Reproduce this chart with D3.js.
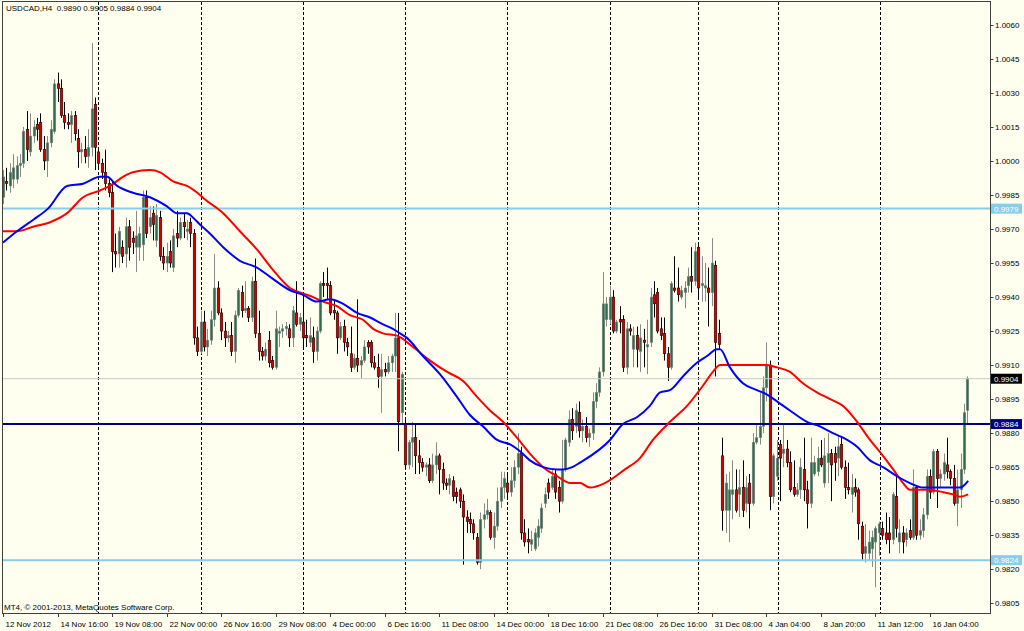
<!DOCTYPE html>
<html><head><meta charset="utf-8">
<script src="https://cdn.jsdelivr.net/npm/d3@7"></script>
<style>
html,body{margin:0;padding:0;background:#fffff0;}
svg{display:block;}
text{font-family:"Liberation Sans",Arial,sans-serif;font-size:8px;}
</style>
</head><body>
<svg id="chart" width="1024" height="631"></svg>
<script>
const symbolTitle = "USDCAD,H4  0.9890 0.9905 0.9884 0.9904";
const copyrightText = "MT4, \u00A9 2001-2013, MetaQuotes Software Corp.";

// H4 candles: [open, high, low, close]
const ohlc = [
[0.9984,0.9996,0.9981,0.9993],[0.9991,0.9997,0.9987,0.9990],[0.9989,0.9999,0.9986,0.9995],[0.9992,1.0003,0.9988,0.9997],
[0.9992,1.0002,0.9990,0.9998],[0.9998,1.0003,0.9993,0.9999],[0.9999,1.0015,0.9997,1.0013],[1.0014,1.0022,1.0000,1.0005],
[1.0004,1.0021,1.0002,1.0011],[1.0011,1.0018,1.0008,1.0015],[1.0016,1.0019,1.0009,1.0014],[1.0017,1.0021,1.0004,1.0005],
[1.0005,1.0011,0.9996,1.0000],[1.0000,1.0011,0.9993,1.0008],[1.0008,1.0018,1.0006,1.0014],[1.0013,1.0036,1.0012,1.0034],
[1.0034,1.0039,1.0026,1.0032],[1.0032,1.0036,1.0019,1.0020],[1.0020,1.0026,1.0014,1.0017],[1.0017,1.0021,1.0014,1.0016],
[1.0016,1.0022,1.0008,1.0020],[1.0020,1.0022,1.0009,1.0012],[1.0010,1.0014,0.9997,1.0004],[1.0004,1.0008,0.9999,1.0005],
[1.0005,1.0011,0.9999,1.0002],[1.0002,1.0014,0.9997,1.0006],[1.0006,1.0052,1.0002,1.0023],[1.0025,1.0028,0.9996,1.0006],
[1.0004,1.0006,0.9996,0.9999],[0.9999,1.0001,0.9992,0.9995],[0.9995,1.0005,0.9987,0.9990],[0.9990,0.9992,0.9984,0.9986],
[0.9986,0.9991,0.9951,0.9960],[0.9960,0.9968,0.9953,0.9959],[0.9959,0.9971,0.9953,0.9969],[0.9962,0.9965,0.9955,0.9958],
[0.9959,0.9975,0.9953,0.9971],[0.9971,0.9974,0.9956,0.9962],[0.9966,0.9969,0.9959,0.9964],[0.9962,0.9978,0.9951,0.9967],
[0.9962,0.9971,0.9956,0.9968],[0.9963,0.9987,0.9956,0.9984],[0.9984,0.9987,0.9966,0.9968],[0.9971,0.9980,0.9968,0.9975],
[0.9977,0.9980,0.9965,0.9972],[0.9965,0.9981,0.9962,0.9976],[0.9975,0.9978,0.9956,0.9958],[0.9958,0.9962,0.9952,0.9955],
[0.9955,0.9964,0.9951,0.9958],[0.9960,0.9965,0.9953,0.9955],[0.9953,0.9970,0.9951,0.9967],[0.9968,0.9978,0.9962,0.9966],
[0.9966,0.9975,0.9965,0.9973],[0.9973,0.9977,0.9966,0.9971],[0.9969,0.9974,0.9965,0.9970],[0.9973,0.9975,0.9962,0.9968],
[0.9968,0.9970,0.9919,0.9922],[0.9922,0.9927,0.9914,0.9916],[0.9916,0.9934,0.9915,0.9929],[0.9929,0.9934,0.9916,0.9918],
[0.9918,0.9926,0.9914,0.9921],[0.9921,0.9934,0.9919,0.9930],[0.9930,0.9959,0.9927,0.9944],[0.9944,0.9947,0.9932,0.9933],
[0.9933,0.9935,0.9921,0.9925],[0.9925,0.9929,0.9918,0.9922],[0.9922,0.9925,0.9920,0.9923],[0.9923,0.9929,0.9914,0.9916],
[0.9916,0.9934,0.9911,0.9932],[0.9932,0.9944,0.9931,0.9943],[0.9942,0.9945,0.9931,0.9934],[0.9934,0.9947,0.9933,0.9935],
[0.9935,0.9936,0.9929,0.9931],[0.9931,0.9949,0.9929,0.9947],[0.9947,0.9957,0.9922,0.9924],[0.9924,0.9934,0.9912,0.9916],
[0.9916,0.9918,0.9912,0.9914],[0.9914,0.9920,0.9912,0.9917],[0.9921,0.9925,0.9909,0.9911],[0.9912,0.9914,0.9908,0.9909],
[0.9909,0.9934,0.9908,0.9926],[0.9924,0.9927,0.9918,0.9925],[0.9925,0.9928,0.9922,0.9926],[0.9926,0.9929,0.9923,0.9927],
[0.9926,0.9928,0.9918,0.9922],[0.9922,0.9936,0.9918,0.9934],[0.9933,0.9947,0.9927,0.9928],[0.9928,0.9933,0.9925,0.9931],
[0.9929,0.9942,0.9917,0.9922],[0.9923,0.9930,0.9918,0.9922],[0.9920,0.9931,0.9918,0.9923],[0.9922,0.9927,0.9911,0.9916],
[0.9916,0.9927,0.9912,0.9925],[0.9925,0.9947,0.9924,0.9946],[0.9946,0.9951,0.9940,0.9945],[0.9946,0.9953,0.9939,0.9945],
[0.9945,0.9947,0.9932,0.9933],[0.9934,0.9939,0.9930,0.9933],[0.9933,0.9934,0.9915,0.9922],[0.9922,0.9929,0.9921,0.9927],
[0.9927,0.9930,0.9916,0.9920],[0.9920,0.9922,0.9914,0.9918],[0.9915,0.9927,0.9907,0.9909],[0.9909,0.9915,0.9908,0.9913],
[0.9913,0.9939,0.9907,0.9910],[0.9910,0.9914,0.9904,0.9912],[0.9912,0.9921,0.9911,0.9918],[0.9920,0.9921,0.9915,0.9918],
[0.9920,0.9921,0.9909,0.9911],[0.9911,0.9914,0.9908,0.9909],[0.9909,0.9915,0.9900,0.9905],[0.9905,0.9915,0.9889,0.9908],
[0.9908,0.9911,0.9905,0.9907],[0.9907,0.9914,0.9906,0.9911],[0.9911,0.9915,0.9907,0.9914],[0.9914,0.9933,0.9907,0.9922],
[0.9922,0.9933,0.9872,0.9885],[0.9889,0.9907,0.9884,0.9906],[0.9884,0.9886,0.9864,0.9866],[0.9866,0.9877,0.9864,0.9876],
[0.9876,0.9885,0.9865,0.9878],[0.9878,0.9884,0.9862,0.9870],[0.9870,0.9877,0.9862,0.9867],[0.9867,0.9869,0.9863,0.9865],
[0.9865,0.9867,0.9861,0.9866],[0.9866,0.9869,0.9858,0.9859],[0.9859,0.9871,0.9858,0.9866],[0.9866,0.9876,0.9862,0.9870],
[0.9870,0.9871,0.9853,0.9864],[0.9864,0.9867,0.9855,0.9858],[0.9858,0.9860,0.9855,0.9857],[0.9857,0.9862,0.9853,0.9860],
[0.9859,0.9861,0.9850,0.9852],[0.9854,0.9856,0.9849,0.9852],[0.9855,0.9856,0.9847,0.9850],[0.9850,0.9853,0.9822,0.9843],
[0.9843,0.9846,0.9836,0.9841],[0.9842,0.9845,0.9836,0.9840],[0.9840,0.9842,0.9833,0.9836],[0.9834,0.9836,0.9822,0.9823],
[0.9823,0.9845,0.9820,0.9842],[0.9842,0.9849,0.9838,0.9844],[0.9844,0.9851,0.9842,0.9846],[0.9845,0.9846,0.9833,0.9834],
[0.9834,0.9845,0.9829,0.9839],[0.9839,0.9856,0.9837,0.9850],[0.9850,0.9863,0.9847,0.9856],[0.9856,0.9863,0.9851,0.9860],
[0.9858,0.9862,0.9851,0.9854],[0.9854,0.9865,0.9852,0.9859],[0.9859,0.9868,0.9856,0.9865],[0.9865,0.9880,0.9862,0.9871],
[0.9871,0.9874,0.9833,0.9836],[0.9836,0.9842,0.9830,0.9832],[0.9833,0.9838,0.9827,0.9832],[0.9831,0.9837,0.9828,0.9833],
[0.9829,0.9838,0.9828,0.9836],[0.9834,0.9842,0.9830,0.9839],[0.9838,0.9849,0.9836,0.9847],[0.9849,0.9856,0.9847,0.9853],
[0.9858,0.9860,0.9851,0.9854],[0.9856,0.9864,0.9855,0.9861],[0.9862,0.9864,0.9851,0.9854],[0.9856,0.9859,0.9845,0.9850],
[0.9850,0.9877,0.9849,0.9864],[0.9864,0.9878,0.9863,0.9877],[0.9876,0.9890,0.9874,0.9886],[0.9886,0.9891,0.9877,0.9881],
[0.9883,0.9893,0.9880,0.9890],[0.9889,0.9894,0.9878,0.9881],[0.9881,0.9886,0.9876,0.9883],[0.9883,0.9887,0.9876,0.9878],
[0.9878,0.9882,0.9874,0.9880],[0.9880,0.9898,0.9877,0.9894],[0.9894,0.9902,0.9891,0.9898],[0.9898,0.9909,0.9896,0.9907],
[0.9907,0.9951,0.9905,0.9937],[0.9930,0.9940,0.9927,0.9937],[0.9930,0.9945,0.9928,0.9940],[0.9940,0.9943,0.9924,0.9925],
[0.9925,0.9930,0.9924,0.9929],[0.9930,0.9936,0.9924,0.9929],[0.9930,0.9932,0.9907,0.9909],[0.9909,0.9929,0.9906,0.9926],
[0.9926,0.9928,0.9923,0.9925],[0.9917,0.9927,0.9909,0.9923],[0.9923,0.9927,0.9909,0.9917],[0.9916,0.9928,0.9907,0.9922],
[0.9921,0.9926,0.9909,0.9920],[0.9918,0.9930,0.9906,0.9919],[0.9920,0.9944,0.9918,0.9940],[0.9941,0.9947,0.9931,0.9937],
[0.9942,0.9944,0.9924,0.9925],[0.9926,0.9931,0.9921,0.9923],[0.9924,0.9931,0.9912,0.9915],[0.9915,0.9918,0.9903,0.9909],
[0.9909,0.9947,0.9908,0.9946],[0.9944,0.9958,0.9942,0.9943],[0.9944,0.9953,0.9938,0.9941],[0.9940,0.9945,0.9939,0.9943],
[0.9942,0.9947,0.9935,0.9944],[0.9945,0.9953,0.9942,0.9949],[0.9949,0.9962,0.9942,0.9947],[0.9947,0.9964,0.9945,0.9960],
[0.9962,0.9964,0.9939,0.9944],[0.9945,0.9958,0.9938,0.9946],[0.9944,0.9955,0.9938,0.9945],[0.9944,0.9953,0.9927,0.9942],
[0.9942,0.9966,0.9936,0.9955],[0.9954,0.9956,0.9905,0.9920],[0.9924,0.9930,0.9917,0.9919],[0.9870,0.9878,0.9837,0.9846],
[0.9846,0.9862,0.9836,0.9858],[0.9846,0.9863,0.9832,0.9855],[0.9853,0.9868,0.9842,0.9855],[0.9855,0.9864,0.9845,0.9846],
[0.9853,0.9864,0.9843,0.9856],[0.9856,0.9868,0.9843,0.9846],[0.9849,0.9861,0.9845,0.9856],[0.9858,0.9862,0.9838,0.9849],
[0.9849,0.9880,0.9848,0.9876],[0.9876,0.9884,0.9875,0.9878],[0.9878,0.9898,0.9875,0.9883],[0.9883,0.9905,0.9880,0.9900],
[0.9900,0.9920,0.9894,0.9910],[0.9910,0.9912,0.9846,0.9852],[0.9852,0.9871,0.9849,0.9870],[0.9861,0.9877,0.9859,0.9869],
[0.9875,0.9877,0.9850,0.9869],[0.9871,0.9884,0.9865,0.9873],[0.9873,0.9877,0.9865,0.9867],[0.9867,0.9872,0.9854,0.9855],
[0.9856,0.9868,0.9852,0.9853],[0.9853,0.9858,0.9852,0.9855],[0.9855,0.9869,0.9851,0.9865],[0.9864,0.9878,0.9850,0.9855],
[0.9855,0.9859,0.9838,0.9849],[0.9849,0.9878,0.9847,0.9867],[0.9862,0.9870,0.9861,0.9867],[0.9863,0.9874,0.9861,0.9869],
[0.9869,0.9877,0.9865,0.9866],[0.9858,0.9878,0.9856,0.9870],[0.9867,0.9880,0.9858,0.9871],[0.9871,0.9873,0.9850,0.9866],
[0.9871,0.9874,0.9859,0.9867],[0.9869,0.9879,0.9861,0.9874],[0.9875,0.9878,0.9864,0.9865],[0.9865,0.9868,0.9851,0.9856],
[0.9856,0.9867,0.9853,0.9855],[0.9853,0.9862,0.9845,0.9856],[0.9856,0.9860,0.9852,0.9854],[0.9855,0.9856,0.9833,0.9840],
[0.9839,0.9841,0.9824,0.9827],[0.9827,0.9840,0.9823,0.9830],[0.9827,0.9837,0.9824,0.9832],[0.9829,0.9837,0.9821,0.9834],
[0.9832,0.9839,0.9812,0.9838],[0.9836,0.9841,0.9826,0.9840],[0.9838,0.9841,0.9833,0.9835],[0.9836,0.9845,0.9831,0.9833],
[0.9836,0.9843,0.9827,0.9833],[0.9833,0.9854,0.9831,0.9853],[0.9852,0.9861,0.9834,0.9838],[0.9832,0.9842,0.9827,0.9836],
[0.9836,0.9839,0.9827,0.9832],[0.9833,0.9838,0.9830,0.9836],[0.9837,0.9842,0.9833,0.9834],[0.9834,0.9864,0.9833,0.9856],
[0.9856,0.9857,0.9833,0.9835],[0.9835,0.9842,0.9833,0.9837],[0.9837,0.9847,0.9834,0.9844],[0.9844,0.9864,0.9842,0.9861],
[0.9861,0.9864,0.9851,0.9854],[0.9854,0.9873,0.9853,0.9872],[0.9872,0.9873,0.9847,0.9860],[0.9860,0.9864,0.9856,0.9862],
[0.9862,0.9871,0.9859,0.9867],[0.9866,0.9878,0.9860,0.9863],[0.9863,0.9864,0.9857,0.9860],[0.9860,0.9866,0.9848,0.9849],
[0.9849,0.9864,0.9839,0.9855],[0.9855,0.9871,0.9847,0.9864],[0.9864,0.9893,0.9862,0.9889],[0.9890,0.9905,0.9884,0.9904]
];

// Moving averages: [bar index, value]
const maBlue = [
[0,0.9964],[4.1,0.9969],[8.8,0.9974],[13.2,0.9979],[18.8,0.9989],[23.5,0.9990],[28.5,0.9993],[30.5,0.9993],[33.5,0.9989],
[38.1,0.9986],[43.1,0.9984],[48.1,0.9980],[51,0.9977],[54,0.9977],[55.8,0.9975],[57.8,0.9972],[60.7,0.9968],[64.6,0.9962],
[69.5,0.9956],[74.5,0.9953],[79.2,0.9948],[84.2,0.9943],[88,0.9941],[92.1,0.9938],[96,0.9939],[99.8,0.9937],[103.9,0.9933],
[107.7,0.9931],[111.5,0.9928],[114.4,0.9926],[116.5,0.9924],[118.5,0.9922],[123.2,0.9914],[128.2,0.9906],[133.2,0.9896],
[137,0.9888],[140.8,0.9883],[145,0.9877],[148.8,0.9875],[151.7,0.9872],[154.6,0.9868],[158.5,0.9865],[162.6,0.9864],
[164.3,0.9864],[167,0.9865],[169.3,0.9867],[178.1,0.9877],[181.9,0.9884],[186,0.9887],[189.8,0.9892],[192.8,0.9898],
[195.7,0.9899],[199.5,0.9905],[203.6,0.9911],[206.6,0.9914],[209.5,0.9917],[210.4,0.9917],[213.3,0.9909],[217.1,0.9902],
[221.2,0.9899],[224.2,0.9897],[227.1,0.9894],[230.9,0.9890],[235.9,0.9885],[239.7,0.9883],[243.5,0.9880],[246.5,0.9878],
[250.6,0.9874],[254.4,0.9868],[258.2,0.9865],[262.3,0.9861],[266.1,0.9858],[269.9,0.9856],[275.8,0.9856],[280.8,0.9856],
[283.2,0.9859]
];
const maRed = [
[0,0.9969],[4.1,0.9969],[8.8,0.9971],[13.8,0.9973],[18.8,0.9977],[23.5,0.9984],[28.5,0.9987],[31.4,0.9989],[35.2,0.9993],
[38.1,0.9995],[43.1,0.9996],[46.1,0.9995],[49.9,0.9991],[54,0.9989],[57.8,0.9985],[59.3,0.9983],[64.6,0.9977],[69.5,0.9969],
[74.5,0.9961],[79.2,0.9952],[84.2,0.9944],[87.1,0.9942],[91,0.9940],[93.9,0.9938],[98,0.9936],[101.8,0.9932],[105.6,0.9930],
[108.6,0.9926],[111.5,0.9924],[115.6,0.9923],[120.3,0.9918],[125.3,0.9912],[130.3,0.9907],[135,0.9903],[139.1,0.9896],
[142.9,0.9890],[146.7,0.9885],[150.8,0.9878],[154.6,0.9871],[158.5,0.9865],[162.6,0.9861],[166.4,0.9858],[169.3,0.9858],
[172.2,0.9856],[176.6,0.9858],[182.5,0.9864],[186.9,0.9869],[190.7,0.9877],[195.7,0.9885],[200.7,0.9892],[205.4,0.9901],
[208.3,0.9907],[210.4,0.9910],[217.1,0.9910],[224.2,0.9910],[227.1,0.9909],[230.9,0.9907],[234.7,0.9902],[238.8,0.9898],
[242.7,0.9895],[246.5,0.9892],[250.6,0.9885],[254.4,0.9877],[258.2,0.9870],[261.2,0.9864],[264.1,0.9858],[266.1,0.9855],
[271.1,0.9855],[275.8,0.9854],[278.8,0.9853],[280.8,0.9852],[283.2,0.9853]
];

const timeLabels = ["12 Nov 2012","14 Nov 16:00","19 Nov 08:00","22 Nov 00:00","26 Nov 16:00","29 Nov 08:00",
  "4 Dec 00:00","6 Dec 16:00","11 Dec 08:00","14 Dec 00:00","18 Dec 16:00","21 Dec 08:00","26 Dec 16:00",
  "31 Dec 08:00","4 Jan 04:00","8 Jan 20:00","11 Jan 12:00","16 Jan 04:00"];
const timeLabelBars = [0,16,32,48,64,80,96,112,128,144,160,176,192,208,224,240,256,272];
const gridBars = [28,58,88,118,148,178,204,227.4,257.3];
const priceTicks = [1.0060,1.0045,1.0030,1.0015,1.0000,0.9985,0.9970,0.9955,0.9940,0.9925,0.9910,0.9895,0.9880,0.9865,0.9850,0.9835,0.9820,0.9805];
const lightLevels = [0.9979, 0.9824];
const keyLevel = 0.9884;
const bidPrice = 0.9904;

const svg = d3.select("#chart");
const PL = 2, PR = 990, PT = 2, PB = 613;
const x = d3.scaleLinear().domain([0, 272]).range([3, 930]);
const y = d3.scaleLinear().domain([0.98007, 1.00701]).range([PB, PT]);

svg.append("rect").attr("width",1024).attr("height",631).attr("fill","#fffff0");
svg.append("defs").append("clipPath").attr("id","plotclip")
  .append("rect").attr("x",PL).attr("y",PT).attr("width",PR-PL).attr("height",PB-PT);
const plot = svg.append("g").attr("clip-path","url(#plotclip)");

// vertical dashed grid
plot.selectAll("line.grid").data(gridBars).enter().append("line")
  .attr("x1",d=>Math.round(x(d))+0.5).attr("x2",d=>Math.round(x(d))+0.5)
  .attr("y1",PT).attr("y2",PB)
  .attr("stroke","#000").attr("stroke-width",1).attr("stroke-dasharray","3,2");

// candles
const cg = plot.append("g");
ohlc.forEach((d,i)=>{
  const [o,h,l,c] = d;
  const up = c >= o;
  const cx = Math.round(x(i)) + 0.5;
  const wick = up ? "#8a8a8a" : "#000";
  cg.append("line").attr("x1",cx).attr("x2",cx).attr("y1",y(h)).attr("y2",y(l))
    .attr("stroke",wick).attr("stroke-width",1);
  const top = y(Math.max(o,c)), bot = y(Math.min(o,c));
  cg.append("rect").attr("x",cx-1.3).attr("y",top).attr("width",2.6).attr("height",Math.max(0.8,bot-top))
    .attr("fill",up ? "#2f6b4d" : "#d00000")
    .attr("stroke",wick).attr("stroke-width",0.5);
});

// horizontal levels
lightLevels.forEach(p=>{
  plot.append("line").attr("x1",PL).attr("x2",PR).attr("y1",y(p)).attr("y2",y(p))
    .attr("stroke","#87ceeb").attr("stroke-width",2);
});
plot.append("line").attr("x1",PL).attr("x2",PR).attr("y1",y(bidPrice)).attr("y2",y(bidPrice))
  .attr("stroke","#c8c8c8").attr("stroke-width",1);
plot.append("line").attr("x1",PL).attr("x2",PR).attr("y1",y(keyLevel)).attr("y2",y(keyLevel))
  .attr("stroke","#000080").attr("stroke-width",2);

// moving averages
const line = d3.line().x(d=>x(d[0])).y(d=>y(d[1])).curve(d3.curveMonotoneX);
plot.append("path").attr("d",line(maRed)).attr("fill","none").attr("stroke","#ff0000").attr("stroke-width",2);
plot.append("path").attr("d",line(maBlue)).attr("fill","none").attr("stroke","#0000ff").attr("stroke-width",2);

// frame
svg.append("rect").attr("x",PL+0.5).attr("y",PT-0.5).attr("width",PR-PL).attr("height",PB-PT+1)
  .attr("fill","none").attr("stroke","#404040").attr("stroke-width",1);

// price axis
const pa = svg.append("g");
priceTicks.forEach(p=>{
  const yy = Math.round(y(p))+0.5;
  pa.append("line").attr("x1",PR+0.5).attr("x2",PR+3.5).attr("y1",yy).attr("y2",yy).attr("stroke","#404040");
  pa.append("text").attr("x",995).attr("y",y(p)+3).attr("fill","#000").text(p.toFixed(4));
});

// time axis
const ta = svg.append("g");
timeLabelBars.forEach((b,k)=>{
  const xx = Math.round(x(b))+0.5;
  ta.append("line").attr("x1",xx).attr("x2",xx).attr("y1",PB).attr("y2",PB+4).attr("stroke","#404040");
  ta.append("text").attr("x",xx+2).attr("y",627).attr("fill","#000").text(timeLabels[k]);
});

// level price boxes
function priceBox(p, fill){
  const yy = y(p);
  svg.append("rect").attr("x",991).attr("y",yy-5).attr("width",31).attr("height",10).attr("fill",fill);
  svg.append("text").attr("x",994).attr("y",yy+3).attr("fill","#fff").text(p.toFixed(4));
}
lightLevels.forEach(p=>priceBox(p,"#87ceeb"));
priceBox(keyLevel,"#000080");
priceBox(bidPrice,"#000");

// texts
svg.append("text").attr("x",6).attr("y",11).attr("fill","#000").attr("xml:space","preserve")
  .style("white-space","pre").text(symbolTitle);
svg.append("text").attr("x",4).attr("y",610).attr("fill","#000").text(copyrightText);
</script>
</body></html>
